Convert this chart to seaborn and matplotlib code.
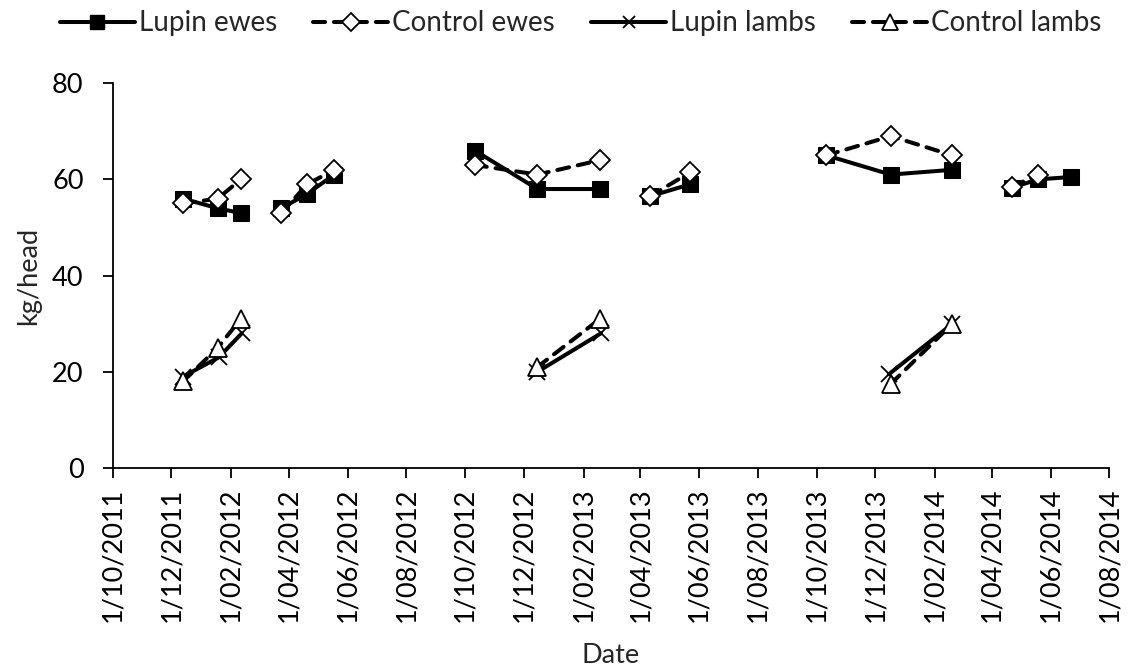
import numpy as np
import pandas as pd
import matplotlib
matplotlib.use("Agg")
import matplotlib.pyplot as plt
import matplotlib.dates as mdates
from matplotlib.lines import Line2D
import seaborn as sns

# --- data (seg = separate trial period, lines are not joined between them)
lupin_ewes_dates = ["2011-12-13", "2012-01-18", "2012-02-11",
                    "2012-03-24", "2012-04-20", "2012-05-18",
                    "2012-10-11", "2012-12-15", "2013-02-18",
                    "2013-04-11", "2013-05-23",
                    "2013-10-11", "2013-12-17", "2014-02-19",
                    "2014-04-22", "2014-05-19", "2014-06-22"]
lupin_ewes_kg = [56, 54, 53, 54, 57, 61, 66, 58, 58, 56.5, 59, 65, 61, 62, 58.3, 60, 60.5]
lupin_ewes_seg = [1, 1, 1, 2, 2, 2, 3, 3, 3, 4, 4, 5, 5, 5, 6, 6, 6]

control_ewes_dates = ["2011-12-13", "2012-01-18", "2012-02-11",
                      "2012-03-24", "2012-04-20", "2012-05-18",
                      "2012-10-11", "2012-12-15", "2013-02-18",
                      "2013-04-11", "2013-05-23",
                      "2013-10-11", "2013-12-17", "2014-02-19",
                      "2014-04-22", "2014-05-19"]
control_ewes_kg = [55, 56, 60, 53, 59, 62, 63, 61, 64, 56.5, 61.5, 65, 69, 65, 58.5, 61]
control_ewes_seg = [1, 1, 1, 2, 2, 2, 3, 3, 3, 4, 4, 5, 5, 5, 6, 6]

lupin_lambs_dates = ["2011-12-13", "2012-01-19", "2012-02-12",
                     "2012-12-15", "2013-02-19",
                     "2013-12-15", "2014-02-19"]
lupin_lambs_kg = [19, 23, 28, 20, 28, 19.5, 30]
lupin_lambs_seg = [1, 1, 1, 2, 2, 3, 3]

control_lambs_dates = ["2011-12-13", "2012-01-18", "2012-02-11",
                       "2012-12-15", "2013-02-18",
                       "2013-12-17", "2014-02-19"]
control_lambs_kg = [18, 25, 31, 21, 31, 17.5, 30]
control_lambs_seg = [1, 1, 1, 2, 2, 3, 3]

series_names = ["Lupin ewes", "Control ewes", "Lupin lambs", "Control lambs"]

sns.set_style("white")
plt.rcParams['font.family'] = ['Lato', 'DejaVu Sans']

fig = plt.figure(figsize=(11.32, 6.71), dpi=100)
ax = fig.add_axes([0.0996, 0.3025, 0.8804, 0.5735])

dash = (0, (3, 2.2))
styles = {
    "Lupin ewes": dict(marker="s", markersize=12, mfc="black", mec="black", linestyle="-"),
    "Control ewes": dict(marker="D", markersize=10.5, mfc="white", mec="black", mew=1.3,
                         linestyle=dash, dash_capstyle="round"),
    "Lupin lambs": dict(marker="x", markersize=11, mec="black", mew=1.3, linestyle="-"),
    "Control lambs": dict(marker="^", markersize=13, mfc="white", mec="black", mew=1.3,
                          linestyle=dash, dash_capstyle="round"),
}

frames = {
    "Lupin ewes": (lupin_ewes_dates, lupin_ewes_kg, lupin_ewes_seg),
    "Control ewes": (control_ewes_dates, control_ewes_kg, control_ewes_seg),
    "Lupin lambs": (lupin_lambs_dates, lupin_lambs_kg, lupin_lambs_seg),
    "Control lambs": (control_lambs_dates, control_lambs_kg, control_lambs_seg),
}

for name in series_names:
    d, v, s = frames[name]
    df = pd.DataFrame({"date": pd.to_datetime(d), "kg": v, "seg": s})
    sns.lineplot(data=df, x="date", y="kg", units="seg", estimator=None, sort=False,
                 color="black", linewidth=2.9, ax=ax, **styles[name])

ax.set_ylim(0, 80)
ax.set_yticks([0, 20, 40, 60, 80])
ax.set_xlim(pd.Timestamp("2011-10-01"), pd.Timestamp("2014-08-01"))
ax.xaxis.set_major_locator(mdates.MonthLocator(bymonth=[2, 4, 6, 8, 10, 12]))
ax.xaxis.set_major_formatter(mdates.DateFormatter("1/%m/%Y"))
for lab in ax.get_xticklabels():
    lab.set_rotation(90)

for sp in ["top", "right"]:
    ax.spines[sp].set_visible(False)
for sp in ["left", "bottom"]:
    ax.spines[sp].set_color("black")
    ax.spines[sp].set_linewidth(1.3)
ax.tick_params(axis="both", which="major", direction="out", length=7, width=1.3,
               color="black", labelsize=19.5, labelcolor="black", left=True, bottom=True)
ax.tick_params(axis="y", pad=14)
ax.tick_params(axis="x", pad=7)
ax.set_xlabel("Date", fontsize=19.5, labelpad=15)
ax.set_ylabel("kg/head", fontsize=19.5, labelpad=8)

handles = []
for name in series_names:
    st = dict(styles[name])
    st["markersize"] = st["markersize"] * 0.85
    handles.append(Line2D([], [], color="black", linewidth=2.9, label=name, **st))
fig.legend(handles=handles, loc="upper center", bbox_to_anchor=(0.513, 1.022), ncol=4,
           frameon=False, fontsize=20, handlelength=2.7, columnspacing=1.3,
           handletextpad=0.15)

fig.savefig("out.png", dpi=100)
